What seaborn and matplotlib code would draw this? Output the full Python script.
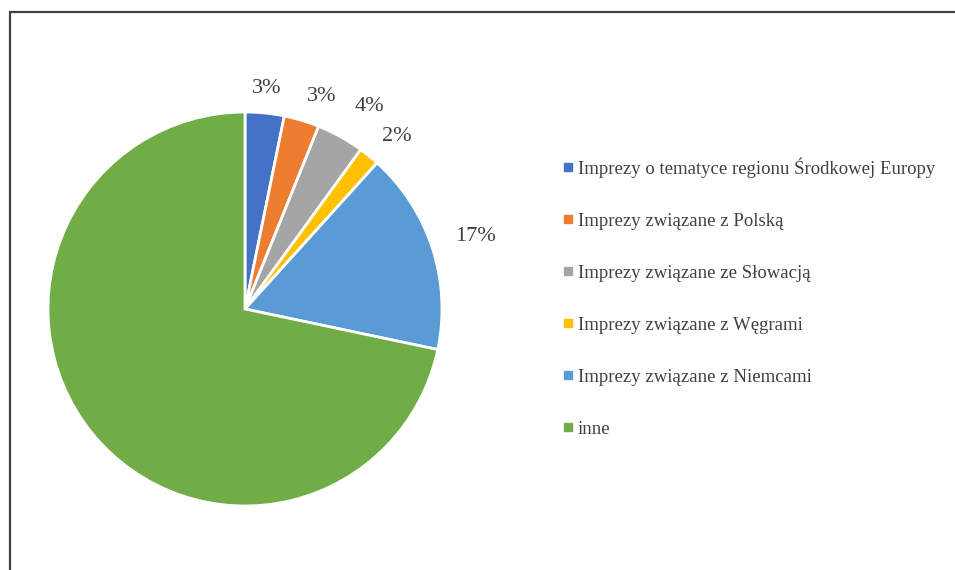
import matplotlib
matplotlib.use('Agg')
import numpy as np
import matplotlib.pyplot as plt
import seaborn as sns
from matplotlib.lines import Line2D

# Data
categories = [
    'Imprezy o tematyce regionu Środkowej Europy',
    'Imprezy związane z Polską',
    'Imprezy związane ze Słowacją',
    'Imprezy związane z Węgrami',
    'Imprezy związane z Niemcami',
    'inne',
]
shares = [3.2, 2.9, 3.9, 1.7, 16.6, 71.7]
pct_labels = ['3%', '3%', '4%', '2%', '17%', '']
colors = ['#4472C4', '#ED7D31', '#A5A5A5', '#FFC000', '#5B9BD5', '#70AD47']

sns.set_theme(style='white')
plt.rcParams['font.family'] = ['Liberation Serif', 'DejaVu Serif']
text_color = '#404040'

fig = plt.figure(figsize=(9.55, 5.7), dpi=100)
W, H = 955, 570
cx, cy, r = 245, 309, 197
lim = 1.3
size = 2 * lim * r
ax = fig.add_axes([(cx - size / 2) / W, (H - cy - size / 2) / H, size / W, size / H])

wedges, _ = ax.pie(shares, colors=colors, startangle=90, counterclock=False,
                   wedgeprops={'edgecolor': 'white', 'linewidth': 2})

# percentage labels just outside each wedge (Excel-like anchoring)
cum = np.cumsum([0] + shares)
total = sum(shares)
dists = [1.10, 1.10, 1.15, 1.10, 1.12]
for i, lab in enumerate(pct_labels):
    if not lab:
        continue
    mid = (cum[i] + cum[i + 1]) / 2 / total * 2 * np.pi
    ha = 'center' if np.degrees(mid) < 10 else 'left'
    d = dists[i]
    ax.text(d * np.sin(mid), d * np.cos(mid), lab, ha=ha, va='baseline',
            fontsize=16, color=text_color)

ax.set_xlim(-lim, lim)
ax.set_ylim(-lim, lim)
ax.set_aspect('equal')
ax.axis('off')

handles = [Line2D([], [], marker='s', linestyle='', markersize=5.5, color=c) for c in colors]
leg = fig.legend(handles, categories, loc='upper left', bbox_to_anchor=(555 / W, 1 - 150 / H),
                 frameon=False, fontsize=13.5, labelspacing=1.86, handlelength=0.6,
                 handletextpad=0.2, borderaxespad=0)
for t in leg.get_texts():
    t.set_color(text_color)

# partial frame (top and left edges) as in the reference
fig.add_artist(Line2D([10 / W, 1], [1 - 12 / H, 1 - 12 / H], transform=fig.transFigure,
                      color='#404040', lw=1.6))
fig.add_artist(Line2D([10 / W, 10 / W], [0, 1 - 12 / H], transform=fig.transFigure,
                      color='#404040', lw=1.6))

fig.savefig('out.png', dpi=100)
